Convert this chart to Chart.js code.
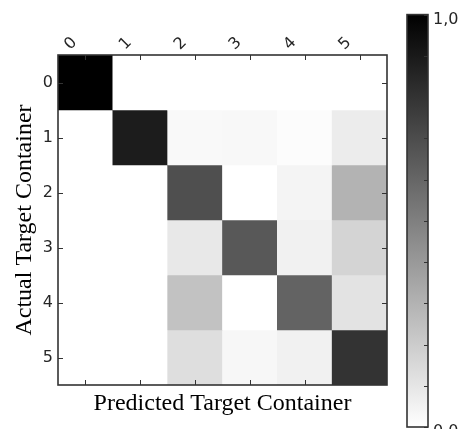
<!DOCTYPE html>
<html><head><meta charset="utf-8">
<script src="https://cdn.jsdelivr.net/npm/chart.js@4/dist/chart.umd.min.js"></script>
<style>
html,body{margin:0;padding:0;background:#fff;overflow:hidden;}
#wrap{position:relative;width:459px;height:429px;background:#fff;overflow:hidden;}
#wrap canvas{position:absolute;left:0;top:0;}
</style></head><body>
<div id="wrap"><canvas id="m" width="459" height="429"></canvas><canvas id="cb" width="480" height="450"></canvas></div>
<script>
// ---- data ----
const predictedLabels = ['0','1','2','3','4','5'];
const actualLabels = [0,1,2,3,4,5];
const row0 = [1.00, 0.00, 0.00, 0.00, 0.00, 0.00];
const row1 = [0.00, 0.89, 0.024, 0.027, 0.01, 0.075];
const row2 = [0.00, 0.00, 0.69, 0.00, 0.043, 0.30];
const row3 = [0.00, 0.00, 0.09, 0.655, 0.055, 0.17];
const row4 = [0.00, 0.00, 0.24, 0.00, 0.61, 0.11];
const row5 = [0.00, 0.00, 0.13, 0.03, 0.055, 0.80];
const matrix = [row0, row1, row2, row3, row4, row5];
const colorbarTicks = [0, 0.1, 0.2, 0.3, 0.4, 0.5, 0.6, 0.7, 0.8, 0.9, 1];
const colorbarLabels = {0: '0,0', 1: '1,0'};
const xTitle = 'Predicted Target Container';
const yTitle = 'Actual Target Container';

function grayFor(v){
  const g = Math.round(255 * (1 - Math.max(0, Math.min(1, v))));
  return 'rgb(' + g + ',' + g + ',' + g + ')';
}
const tickFont = {family: 'DejaVu Sans', size: 16};
const titleFont = {family: 'Liberation Serif', size: 24};
const tickColor = '#262626';
const frameColor = '#333333';

const datasets = matrix.map((row, i) => ({
  label: 'row ' + i,
  data: row.map(() => [actualLabels[i] - 0.5, actualLabels[i] + 0.5]),
  backgroundColor: row.map(grayFor),
  borderWidth: 0,
  barPercentage: 1,
  categoryPercentage: 1,
  grouped: false,
  xAxisID: 'x',
  yAxisID: 'y'
}));

const framePlugin = {
  id: 'frame',
  afterDatasetsDraw(chart) {
    const {ctx, chartArea: a, scales} = chart;
    const xs = scales.x, ys = scales.y;
    const L = 5;
    ctx.save();
    ctx.strokeStyle = frameColor;
    ctx.lineWidth = 1;
    ctx.beginPath();
    predictedLabels.forEach((lab, j) => {
      const px = Math.round(xs.getPixelForValue(j)) + 0.5;
      ctx.moveTo(px, a.top); ctx.lineTo(px, a.top + L);
      ctx.moveTo(px, a.bottom); ctx.lineTo(px, a.bottom - L);
    });
    actualLabels.forEach(v => {
      const py = Math.round(ys.getPixelForValue(v)) + 0.5;
      ctx.moveTo(a.left, py); ctx.lineTo(a.left + L, py);
      ctx.moveTo(a.right, py); ctx.lineTo(a.right - L, py);
    });
    ctx.stroke();
    ctx.lineWidth = 1.6;
    ctx.strokeRect(a.left, a.top, a.right - a.left, a.bottom - a.top);
    ctx.restore();
  }
};

new Chart(document.getElementById('m'), {
  type: 'bar',
  data: {labels: predictedLabels, datasets},
  options: {
    responsive: false,
    animation: false,
    layout: {padding: {left: 0, right: 72, top: 0, bottom: 0}},
    plugins: {legend: {display: false}, tooltip: {enabled: false}},
    scales: {
      x: {
        type: 'category', position: 'top', offset: true,
        grid: {display: false, drawTicks: false}, border: {display: false},
        ticks: {minRotation: 45, maxRotation: 45, padding: 1, labelOffset: -4.5, font: tickFont, color: tickColor, autoSkip: false},
        afterFit: s => { s.height = 55; }
      },
      x2: {
        type: 'category', position: 'bottom', offset: true,
        grid: {display: false, drawTicks: false}, border: {display: false},
        ticks: {display: false},
        title: {display: true, text: xTitle, font: titleFont, color: '#000', padding: {top: 0, bottom: 10.6}},
        afterFit: s => { s.height = 44; }
      },
      y: {
        type: 'linear', position: 'left', min: -0.5, max: 5.5, reverse: true,
        grid: {display: false, drawTicks: false}, border: {display: false},
        afterBuildTicks: s => { s.ticks = actualLabels.map(v => ({value: v})); },
        ticks: {padding: 5, font: tickFont, color: tickColor, autoSkip: false, callback: v => String(v)},
        title: {display: true, text: yTitle, font: titleFont, color: '#000', padding: {top: 10.6, bottom: 0}},
        afterFit: s => { s.width = 58; }
      }
    }
  },
  plugins: [framePlugin]
});

const cbPlugin = {
  id: 'cbframe',
  afterDatasetsDraw(chart) {
    const {ctx, chartArea: a, scales} = chart;
    const ys = scales.y;
    ctx.save();
    ctx.strokeStyle = frameColor;
    ctx.lineWidth = 1;
    ctx.beginPath();
    colorbarTicks.forEach(v => {
      const py = Math.round(ys.getPixelForValue(v)) + 0.5;
      ctx.moveTo(a.right, py); ctx.lineTo(a.right - 4, py);
    });
    ctx.stroke();
    ctx.lineWidth = 1.6;
    ctx.strokeRect(a.left, a.top, a.right - a.left, a.bottom - a.top);
    ctx.restore();
  }
};

new Chart(document.getElementById('cb'), {
  type: 'bar',
  data: {
    labels: ['cb'],
    datasets: [{
      data: [[0, 1]],
      borderWidth: 0,
      barPercentage: 1,
      categoryPercentage: 1,
      backgroundColor: (c) => {
        const ch = c.chart; const a = ch.chartArea;
        if (!a) return '#888';
        const ys = ch.scales.y;
        const g = ch.ctx.createLinearGradient(0, ys.getPixelForValue(0), 0, ys.getPixelForValue(1));
        g.addColorStop(0, grayFor(0));
        g.addColorStop(1, grayFor(1));
        return g;
      }
    }]
  },
  options: {
    responsive: false,
    animation: false,
    layout: {padding: {left: 407, right: 0, top: 14, bottom: 23}},
    plugins: {legend: {display: false}, tooltip: {enabled: false}},
    scales: {
      x: {type: 'category', display: false, offset: true},
      y: {
        type: 'linear', position: 'right', min: 0, max: 1,
        grid: {display: false, drawTicks: false}, border: {display: false},
        afterBuildTicks: s => { s.ticks = colorbarTicks.map(v => ({value: v})); },
        ticks: {padding: 5, labelOffset: 5, font: tickFont, color: tickColor, autoSkip: false,
          callback: v => (colorbarLabels[v] !== undefined ? colorbarLabels[v] : '')},
        afterFit: s => { s.width = 52; }
      }
    }
  },
  plugins: [cbPlugin]
});
</script>
</body></html>
